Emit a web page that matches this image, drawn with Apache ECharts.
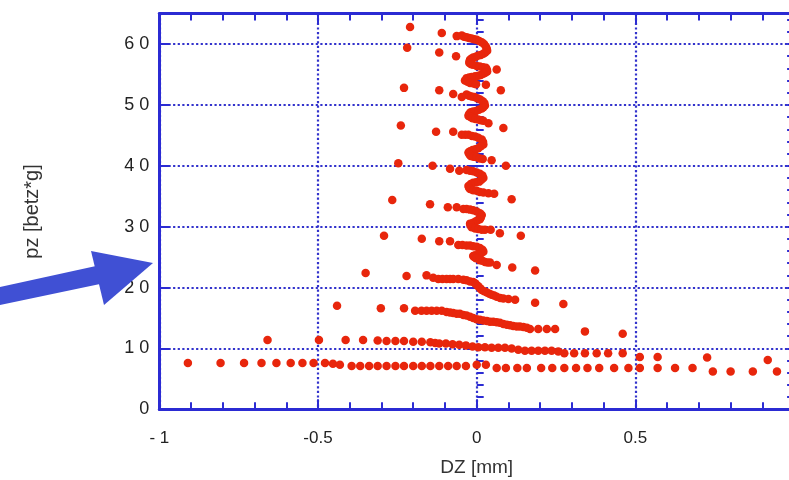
<!DOCTYPE html>
<html>
<head>
<meta charset="utf-8">
<script src="https://cdn.jsdelivr.net/npm/echarts@6/dist/echarts.min.js"></script>
<style>
  html, body { margin: 0; padding: 0; background: #ffffff; }
  #chart { width: 789px; height: 480px; }
</style>
</head>
<body>
<div id="chart"></div>
<script>
// ---- tick labels ----
const xTickLabels = ['- 1', '-0.5', '0', '0.5', '1'];
const yTickLabels = ['0', '1 0', '2 0', '3 0', '4 0', '5 0', '6 0'];

// ---- data: [DZ (mm), pz (betz*g)], band by band ----
const rowA = [
  [-0.910,7.6],[-0.807,7.6],[-0.733,7.6],[-0.678,7.6],[-0.631,7.6],[-0.586,7.6],[-0.549,7.6],[-0.514,7.6],
  [-0.478,7.6],[-0.453,7.5],[-0.431,7.3],[-0.394,7.1],[-0.367,7.1],[-0.339,7.1],[-0.312,7.1],[-0.284,7.1],
  [-0.256,7.1],[-0.229,7.1],[-0.200,7.1],[-0.173,7.1],[-0.146,7.1],[-0.118,7.1],[-0.090,7.1],[-0.063,7.1],
  [-0.034,7.1],[0.000,7.3],[0.029,7.3],[0.063,6.8],[0.092,6.8],[0.128,6.8],[0.158,6.8],[0.203,6.8],
  [0.238,6.8],[0.276,6.8],[0.313,6.8],[0.349,6.8],[0.386,6.8],[0.433,6.8],[0.478,6.8],[0.514,6.8],
  [0.570,6.8],[0.625,6.8],[0.680,6.8],[0.744,6.2],[0.800,6.2],[0.870,6.2],[0.946,6.2]
];
const rowB = [
  [-0.659,11.4],[-0.497,11.4],[-0.413,11.4],[-0.358,11.4],[-0.312,11.3],[-0.284,11.2],[-0.256,11.2],[-0.229,11.2],
  [-0.200,11.1],[-0.173,11.1],[-0.146,11.0],[-0.131,10.9],[-0.118,10.8],[-0.097,10.8],[-0.076,10.7],[-0.055,10.6],
  [-0.034,10.5],[-0.013,10.3],[0.005,10.2],[0.026,10.2],[0.047,10.1],[0.068,10.1],[0.089,10.1],[0.110,10.0],
  [0.131,9.8],[0.152,9.6],[0.173,9.6],[0.194,9.6],[0.215,9.6],[0.236,9.6],[0.257,9.5],[0.276,9.2],
  [0.307,9.2],[0.341,9.2],[0.378,9.2],[0.414,9.2],[0.460,9.2],[0.514,8.6],[0.570,8.6],[0.726,8.5],[0.917,8.1]
];
const rowC = [
  [-0.440,17.0],[-0.302,16.6],[-0.229,16.6],[-0.194,16.2],[-0.174,16.2],[-0.158,16.2],[-0.142,16.2],[-0.126,16.2],
  [-0.110,16.2],[-0.095,16.0],[-0.084,15.9],[-0.074,15.8],[-0.063,15.7],[-0.053,15.7],[-0.042,15.5],[-0.032,15.4],
  [-0.021,15.2],[-0.011,15.0],[0.000,14.8],[0.010,14.7],[0.021,14.6],[0.032,14.5],[0.042,14.4],[0.052,14.4],
  [0.063,14.3],[0.073,14.2],[0.084,14.0],[0.095,13.9],[0.105,13.8],[0.115,13.7],[0.126,13.6],[0.136,13.6],
  [0.147,13.5],[0.158,13.4],[0.168,13.2],[0.194,13.2],[0.221,13.2],[0.247,13.2],[0.341,12.8],[0.460,12.4]
];
const rowD = [
  [-0.350,22.4],[-0.221,21.9],[-0.158,22.0],[-0.137,21.6],[-0.121,21.4],[-0.108,21.4],[-0.095,21.4],[-0.084,21.4],
  [-0.074,21.4],[-0.058,21.4],[-0.042,21.3],[-0.032,21.2],[-0.021,21.0],[-0.011,20.9],[-0.005,20.7],[0.000,20.4],
  [0.005,20.2],[0.011,19.9],[0.016,19.6],[0.024,19.4],[0.032,19.2],[0.040,19.0],[0.047,18.8],[0.055,18.7],
  [0.063,18.5],[0.074,18.3],[0.084,18.2],[0.100,18.1],[0.121,18.0],[0.184,17.5],[0.273,17.3]
];
const rowE = [
  [-0.292,28.5],[-0.173,28.0],[-0.118,27.6],[-0.084,27.6],[-0.058,27.0],[-0.045,27.0],[-0.032,26.9],[-0.021,26.9],
  [-0.011,26.8],[0.000,26.7],[0.010,26.5],[0.018,26.2],[0.021,25.9],[0.013,25.6],[0.005,25.4],[-0.005,25.3],
  [-0.011,25.2],[-0.008,25.0],[-0.002,24.8],[0.010,24.5],[0.018,24.4],[0.026,24.2],[0.034,24.1],[0.042,24.1],
  [0.063,23.7],[0.112,23.3],[0.184,22.8]
];
const rowF = [
  [-0.266,34.4],[-0.147,33.7],[-0.091,33.2],[-0.063,33.2],[-0.042,32.9],[-0.032,32.9],[-0.021,32.8],[-0.011,32.7],
  [0.000,32.5],[0.010,32.2],[0.016,31.9],[0.013,31.5],[0.010,31.2],[0.002,31.0],[-0.005,30.8],[-0.013,30.6],
  [-0.021,30.5],[-0.019,30.2],[-0.016,29.9],[-0.005,29.7],[0.005,29.6],[0.016,29.5],[0.026,29.5],[0.044,29.5],
  [0.073,28.9],[0.139,28.5]
];
const rowG = [
  [-0.247,40.4],[-0.139,40.0],[-0.084,39.5],[-0.055,39.2],[-0.032,39.3],[-0.021,39.2],[-0.011,39.1],[0.000,38.9],
  [0.010,38.7],[0.018,38.4],[0.021,38.0],[0.015,37.7],[0.008,37.4],[-0.002,37.3],[-0.011,37.2],[-0.019,37.0],
  [-0.026,36.7],[-0.024,36.4],[-0.021,36.2],[-0.011,36.0],[0.000,35.9],[0.010,35.7],[0.021,35.6],[0.037,35.5],
  [0.055,35.4],[0.110,34.5]
];
const rowH = [
  [-0.239,46.6],[-0.128,45.6],[-0.074,45.6],[-0.047,45.1],[-0.036,45.1],[-0.026,45.1],[-0.015,44.9],[-0.005,44.8],
  [0.005,44.6],[0.016,44.3],[0.020,43.9],[0.021,43.5],[0.013,43.2],[0.005,42.9],[-0.004,42.7],[-0.013,42.6],
  [-0.021,42.4],[-0.026,42.2],[-0.023,41.9],[-0.019,41.6],[-0.010,41.5],[0.000,41.4],[0.010,41.2],[0.019,41.1],
  [0.047,40.9],[0.092,40.0]
];
const rowI = [
  [-0.229,52.8],[-0.118,52.4],[-0.074,51.8],[-0.047,51.3],[-0.032,51.7],[-0.024,51.5],[-0.016,51.4],[-0.007,51.3],
  [0.002,51.1],[0.011,50.9],[0.019,50.6],[0.024,50.3],[0.026,49.9],[0.021,49.6],[0.016,49.4],[0.007,49.2],
  [-0.002,49.0],[-0.011,48.9],[-0.019,48.8],[-0.024,48.5],[-0.026,48.2],[-0.020,48.0],[-0.013,47.8],[-0.004,47.7],
  [0.005,47.6],[0.013,47.5],[0.021,47.4],[0.037,47.0],[0.084,46.2]
];
const rowJ = [
  [-0.219,59.4],[-0.118,58.6],[-0.065,58.0],[0.029,53.3],[0.076,52.4]
];
const rowK = [
  [-0.210,62.8],[-0.110,61.8],[-0.063,61.3],[-0.047,61.4],[-0.040,61.2],[-0.032,61.1],[-0.024,61.0],[-0.016,60.9],
  [-0.008,60.8],[0.000,60.7],[0.008,60.5],[0.016,60.3],[0.023,60.0],[0.029,59.6],[0.032,59.2],[0.033,58.9],
  [0.027,58.6],[0.021,58.4],[0.013,58.2],[0.005,58.1],[-0.003,57.9],[-0.011,57.8],[-0.017,57.6],[-0.021,57.4],
  [-0.023,57.1],[-0.023,56.9],[-0.017,56.7],[-0.011,56.6],[0.000,56.4],[0.010,56.3],[0.020,56.2],[0.029,56.1],
  [0.032,55.8],[0.033,55.5],[0.027,55.3],[0.021,55.1],[0.013,54.9],[0.005,54.8],[-0.005,54.7],[-0.016,54.6],
  [-0.024,54.5],[-0.032,54.4],[-0.037,54.0],[-0.029,53.8],[-0.021,53.6],[-0.010,53.5],[-0.002,53.4],[0.063,55.8]
];

const allPoints = [].concat(rowA, rowB, rowC, rowD, rowE, rowF, rowG, rowH, rowI, rowJ, rowK);

// ---- styles ----
const AXIS_BLUE = '#2b2bd3';
const GRID_BLUE = '#3333cc';
const DOT_RED = '#e8260c';
const ARROW_BLUE = '#4050d4';
const FONT = 'Liberation Sans, Arial, sans-serif';

const chart = echarts.init(document.getElementById('chart'), null, { renderer: 'canvas' });

const xBase = { type: 'value', min: -1, max: 1, interval: 0.5 };
const yBase = { type: 'value', min: 0, max: 65 };

const option = {
  animation: false,
  backgroundColor: '#ffffff',
  grid: { left: 159.3, top: 13.6, width: 634.8, height: 395.7, containLabel: false, outerBoundsMode: 'none' },
  xAxis: [
    Object.assign({}, xBase, {
      position: 'bottom',
      name: 'DZ [mm]', nameLocation: 'middle', nameGap: 49,
      nameTextStyle: { fontSize: 19, color: '#333', fontFamily: FONT },
      axisLine: { show: true, onZero: false, lineStyle: { color: AXIS_BLUE, width: 3 } },
      axisTick: { show: true, inside: true, length: 10, lineStyle: { color: AXIS_BLUE, width: 2 } },
      minorTick: { show: true, splitNumber: 5, length: 7, lineStyle: { color: AXIS_BLUE, width: 2 } },
      splitLine: { show: true, lineStyle: { color: GRID_BLUE, width: 2.2, type: [2.2, 2.4] } },
      axisLabel: {
        margin: 21, fontSize: 17, color: '#222', fontFamily: FONT,
        formatter: (v, i) => xTickLabels[i] !== undefined ? xTickLabels[i] : ''
      }
    }),
    Object.assign({}, xBase, {
      position: 'top',
      axisLine: { show: true, onZero: false, lineStyle: { color: AXIS_BLUE, width: 3 } },
      axisTick: { show: true, inside: true, length: 10, lineStyle: { color: AXIS_BLUE, width: 2 } },
      minorTick: { show: true, splitNumber: 5, length: 7, lineStyle: { color: AXIS_BLUE, width: 2 } },
      splitLine: { show: false },
      axisLabel: { show: false }
    })
  ],
  yAxis: [
    Object.assign({}, yBase, {
      position: 'left', interval: 10,
      name: 'pz [betz*g]', nameLocation: 'middle', nameGap: 117, nameRotate: 90,
      nameTextStyle: { fontSize: 20, color: '#333', fontFamily: FONT },
      axisLine: { show: true, onZero: false, lineStyle: { color: AXIS_BLUE, width: 3 } },
      axisTick: { show: true, inside: true, length: 10, lineStyle: { color: AXIS_BLUE, width: 2 } },
      splitLine: { show: true, lineStyle: { color: GRID_BLUE, width: 2.2, type: [2.2, 2.4] } },
      axisLabel: {
        margin: 10, fontSize: 18, color: '#222', fontFamily: FONT,
        formatter: (v, i) => yTickLabels[i] !== undefined ? yTickLabels[i] : ''
      }
    }),
    Object.assign({}, yBase, {
      position: 'left', interval: 2,
      axisLine: { show: false },
      axisTick: { show: true, inside: true, length: 7, lineStyle: { color: AXIS_BLUE, width: 2 } },
      splitLine: { show: false },
      axisLabel: { show: false }
    }),
    Object.assign({}, yBase, {
      position: 'right', interval: 2,
      axisLine: { show: true, onZero: false, lineStyle: { color: AXIS_BLUE, width: 3 } },
      axisTick: { show: true, inside: true, length: 7, lineStyle: { color: AXIS_BLUE, width: 2 } },
      splitLine: { show: false },
      axisLabel: { show: false }
    }),
    Object.assign({}, yBase, {
      position: 'right', interval: 10,
      axisLine: { show: false },
      axisTick: { show: true, inside: true, length: 10, lineStyle: { color: AXIS_BLUE, width: 2 } },
      splitLine: { show: false },
      axisLabel: { show: false }
    })
  ],
  series: [{
    type: 'scatter',
    xAxisIndex: 0,
    yAxisIndex: 0,
    data: allPoints,
    symbol: 'circle',
    symbolSize: 8.5,
    itemStyle: { color: DOT_RED, opacity: 1 },
    emphasis: { disabled: true }
  }],
  graphic: [
    {
      type: 'polygon', z: 100,
      shape: { points: [[0, 287], [96, 266], [100, 284], [0, 305]] },
      style: { fill: ARROW_BLUE }
    },
    {
      type: 'polygon', z: 100,
      shape: { points: [[91, 251], [153, 263], [104, 305]] },
      style: { fill: ARROW_BLUE }
    }
  ]
};

chart.setOption(option);
</script>
</body>
</html>
